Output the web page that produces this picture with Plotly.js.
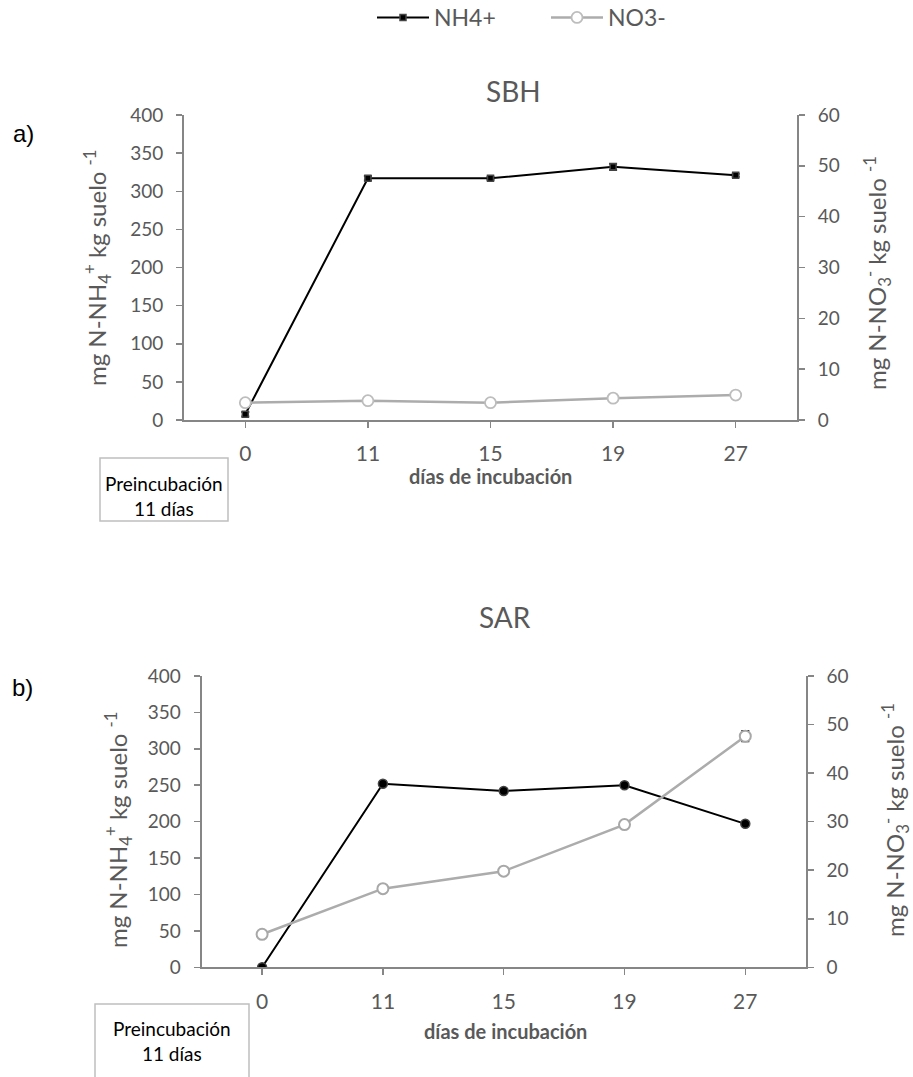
<!DOCTYPE html>
<html>
<head>
<meta charset="utf-8">
<script src="https://cdn.plot.ly/plotly-3.0.1.min.js"></script>
<style>html,body{margin:0;padding:0;background:#fff;}#chart{width:913px;height:1077px;}</style>
</head>
<body>
<div id="chart"></div>
<script>
// ---- data ----
var days = ['0', '11', '15', '19', '27'];
var sbhNH4 = [7.5, 317, 317, 332, 321];
var sbhNH4Err = [3, 3, 2, 4, 2];
var sbhNO3 = [3.4, 3.8, 3.4, 4.3, 4.9];
var sbhNO3Err = [0.2, 0.2, 0.2, 0.2, 0.3];
var sarNH4 = [0, 252, 242, 250, 197];
var sarNH4Err = [1, 2, 2, 3, 2];
var sarNO3 = [6.8, 16.2, 19.8, 29.4, 47.6];
var sarNO3Err = [0.3, 0.4, 0.3, 0.7, 1.1];
var yLeftTicks = [0, 50, 100, 150, 200, 250, 300, 350, 400];
var yRightTicks = [0, 10, 20, 30, 40, 50, 60];

var W = 913, H = 1077;
function px(x) { return x / W; }
function py(y) { return 1 - y / H; }

var F = 'Lato, "Open Sans", sans-serif';
var grey = '#595959';
var axisCol = '#868686';
var nh4Col = '#000000';
var no3Col = '#acacac';

var traces = [
  {x: days, y: sbhNH4, name: 'NH4+', type: 'scatter', mode: 'lines+markers', xaxis: 'x', yaxis: 'y',
   line: {color: nh4Col, width: 2}, marker: {symbol: 'square', size: 6, color: '#000', line: {color: '#444', width: 1.5}},
   error_y: {type: 'data', array: sbhNH4Err, visible: true, color: '#404040', thickness: 2, width: 4}},
  {x: days, y: sbhNO3, name: 'NO3-', type: 'scatter', mode: 'lines+markers', xaxis: 'x', yaxis: 'y2',
   line: {color: no3Col, width: 2.5}, marker: {symbol: 'circle', size: 11, color: '#fff', line: {color: '#bdbdbd', width: 1.8}},
   error_y: {type: 'data', array: sbhNO3Err, visible: true, color: '#404040', thickness: 1.5, width: 3}},
  {x: days, y: sarNH4, name: 'NH4+', type: 'scatter', mode: 'lines+markers', xaxis: 'x2', yaxis: 'y3', showlegend: false,
   line: {color: nh4Col, width: 2}, marker: {symbol: 'circle', size: 9, color: '#000', line: {color: '#444', width: 1.5}},
   error_y: {type: 'data', array: sarNH4Err, visible: true, color: '#404040', thickness: 1.5, width: 4}},
  {x: days, y: sarNO3, name: 'NO3-', type: 'scatter', mode: 'lines+markers', xaxis: 'x2', yaxis: 'y4', showlegend: false,
   line: {color: no3Col, width: 2.5}, marker: {symbol: 'circle', size: 11, color: '#fff', line: {color: '#a8a8a8', width: 2}},
   error_y: {type: 'data', array: sarNO3Err, visible: true, color: '#202020', thickness: 1.5, width: 4}}
];

function xAx(dom, anchor) {
  return {domain: dom, anchor: anchor, type: 'category', range: [-0.5, 4.5], showline: true, linecolor: axisCol, linewidth: 2,
    ticks: 'outside', ticklen: 6, tickwidth: 1.5, tickcolor: axisCol, showgrid: false, zeroline: false,
    tickfont: {family: F, size: 21, color: grey}, ticklabelstandoff: 8, fixedrange: true};
}
function yAx(dom, anchor, rng, tv, side, over) {
  var a = {domain: dom, anchor: anchor, range: rng, tickvals: tv, ticktext: tv.map(String), showline: true, linecolor: axisCol, linewidth: 2,
    ticks: 'outside', ticklen: 6, tickwidth: 1.5, tickcolor: axisCol, showgrid: false, zeroline: false,
    tickfont: {family: F, size: 19, color: grey}, ticklabelstandoff: 9, side: side, fixedrange: true};
  if (over) a.overlaying = over;
  return a;
}

var topX = [px(184), px(797)], topY = [py(420), py(115)];
var botX = [px(201.7), px(805.7)], botY = [py(967.3), py(676)];

var ann = [];
function txt(x, y, t, size, opts) {
  var a = {xref: 'paper', yref: 'paper', x: px(x), y: py(y), text: t, showarrow: false, xanchor: 'center', yanchor: 'middle',
    font: {family: F, size: size, color: grey}};
  for (var k in opts) a[k] = opts[k];
  ann.push(a);
}
txt(513, 91, 'SBH', 28);
txt(505, 617, 'SAR', 28);
txt(23, 134, 'a)', 24, {font: {family: 'Liberation Sans, Arial, sans-serif', size: 24, color: '#000'}});
txt(22, 687, 'b)', 24, {font: {family: 'Liberation Sans, Arial, sans-serif', size: 24, color: '#000'}});
txt(97, 268, 'mg N-NH<sub>4</sub><sup>+</sup> kg suelo <sup>-1</sup>', 24, {textangle: -90});
txt(118, 830, 'mg N-NH<sub>4</sub><sup>+</sup> kg suelo <sup>-1</sup>', 24, {textangle: -90});
txt(877, 273, 'mg N-NO<sub>3</sub><sup>-</sup> kg suelo <sup>-1</sup>', 24, {textangle: -90});
txt(895, 820, 'mg N-NO<sub>3</sub><sup>-</sup> kg suelo <sup>-1</sup>', 24, {textangle: -90});
txt(490, 476, '<b>días de incubación</b>', 20);
txt(505, 1031, '<b>días de incubación</b>', 20);
txt(164, 496, 'Preincubación<br>11 días', 19, {font: {family: F, size: 19, color: '#000'}});
txt(172, 1041, 'Preincubación<br>11 días', 19, {font: {family: F, size: 19, color: '#000'}});

var shapes = [
  {type: 'rect', xref: 'paper', yref: 'paper', x0: px(100), x1: px(228), y0: py(521), y1: py(458), line: {color: '#bfbfbf', width: 1.5}},
  {type: 'rect', xref: 'paper', yref: 'paper', x0: px(95), x1: px(249), y0: py(1080), y1: py(1004), line: {color: '#bfbfbf', width: 1.5}}
];

var layout = {
  width: W, height: H, margin: {l: 0, r: 0, t: 0, b: 0, autoexpand: false}, paper_bgcolor: '#fff', plot_bgcolor: 'rgba(0,0,0,0)',
  showlegend: true,
  legend: {orientation: 'h', x: px(372), y: py(-4), xanchor: 'left', yanchor: 'top', font: {family: F, size: 23, color: grey},
    bgcolor: 'rgba(0,0,0,0)', itemwidth: 52, entrywidth: 107, traceorder: 'normal'},
  xaxis: xAx(topX, 'y'),
  yaxis: yAx(topY, 'x', [0, 400], yLeftTicks, 'left'),
  yaxis2: yAx(topY, 'x', [0, 60], yRightTicks, 'right', 'y'),
  xaxis2: xAx(botX, 'y3'),
  yaxis3: yAx(botY, 'x2', [0, 400], yLeftTicks, 'left'),
  yaxis4: yAx(botY, 'x2', [0, 60], yRightTicks, 'right', 'y3'),
  annotations: ann,
  shapes: shapes
};

Plotly.newPlot('chart', traces, layout, {displayModeBar: false, staticPlot: true});
</script>
</body>
</html>
